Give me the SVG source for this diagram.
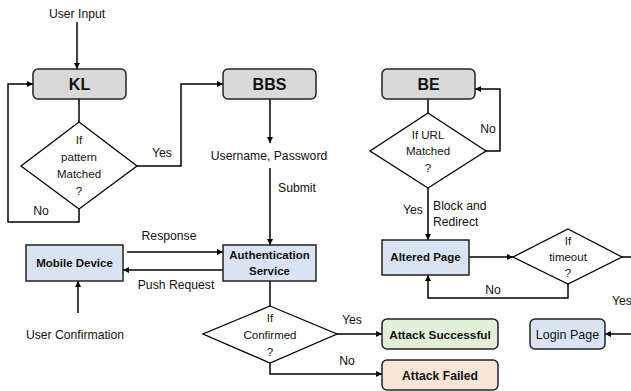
<svg xmlns="http://www.w3.org/2000/svg" width="631" height="391" viewBox="0 0 631 391">
  <defs>
    <marker id="arrow" viewBox="0 0 10 10" refX="10" refY="5" markerWidth="6" markerHeight="6" markerUnits="userSpaceOnUse" orient="auto">
      <path d="M0,0 L10,5 L0,10 z" fill="#000"/>
    </marker>
    <style>
      text { font-family: "Liberation Sans", Arial, sans-serif; fill: #111; }
      .lbl { font-size: 12.2px; text-anchor: middle; }
      .lbls { font-size: 12.2px; }
      .dtx { font-size: 11.5px; text-anchor: middle; }
      .title { font-size: 16px; font-weight: bold; text-anchor: middle; }
      .bold { font-size: 11.5px; font-weight: bold; text-anchor: middle; }
      .box { stroke: #222; stroke-width: 1.5; }
      .grey { fill: #d9d9d9; }
      .blue { fill: #dae3f3; }
      .green { fill: #e2f0d9; }
      .orange { fill: #fbe5d6; }
      .dia { fill: #fff; stroke: #000; stroke-width: 1.3; }
      .conn { fill: none; stroke: #000; stroke-width: 1.5; }
      .arr { marker-end: url(#arrow); }
    </style>
  </defs>

  <!-- connectors -->
  <g id="connectors">
    <path class="conn arr" d="M77,22 V69"/>
    <path class="conn" d="M79,99 V122"/>
    <path class="conn arr" d="M137,166 H181 V84 H223"/>
    <path class="conn arr" d="M79,209 V222 H8 V84 H33"/>
    <path class="conn arr" d="M270,99 V143"/>
    <path class="conn arr" d="M270,168 V245"/>
    <path class="conn arr" d="M127,252 H223"/>
    <path class="conn arr" d="M223,270 H123"/>
    <path class="conn arr" d="M78,313 V281"/>
    <path class="conn" d="M270,281 V306"/>
    <path class="conn arr" d="M337,334 H382"/>
    <path class="conn arr" d="M270,363 V374 H382"/>
    <path class="conn" d="M428,99 V113"/>
    <path class="conn arr" d="M486,151 H500 V89 H475"/>
    <path class="conn arr" d="M428,188 V240"/>
    <path class="conn arr" d="M469,257 H513"/>
    <path class="conn" d="M622,257 H631"/>
    <path class="conn arr" d="M568,284 V298 H428 V275"/>
    <path class="conn arr" d="M631,334 H605"/>
  </g>

  <!-- connector labels -->
  <g id="labels">
    <text class="lbl" x="77" y="18">User Input</text>
    <text class="lbl" x="162" y="157">Yes</text>
    <text class="lbl" x="41" y="215">No</text>
    <text class="lbl" x="269" y="160">Username, Password</text>
    <text class="lbls" x="278" y="192">Submit</text>
    <text class="lbl" x="169" y="240">Response</text>
    <text class="lbl" x="176" y="289">Push Request</text>
    <text class="lbl" x="75" y="339">User Confirmation</text>
    <text class="lbl" x="352" y="324">Yes</text>
    <text class="lbl" x="347" y="365">No</text>
    <text class="lbl" x="488" y="133">No</text>
    <text class="lbl" x="413" y="214">Yes</text>
    <text class="lbls" x="433" y="210">Block and</text>
    <text class="lbls" x="433" y="226">Redirect</text>
    <text class="lbl" x="493" y="294">No</text>
    <text class="lbls" x="612" y="305">Yes</text>
  </g>

  <g id="kl">
    <rect class="box grey" x="33" y="69" width="93" height="30" rx="5"/>
    <text class="title" x="79.5" y="90">KL</text>
  </g>
  <g id="pattern-check">
    <polygon class="dia" points="79,122 137,166 79,209 21,166"/>
    <text class="dtx" x="79" y="144">If</text>
    <text class="dtx" x="79" y="161">pattern</text>
    <text class="dtx" x="79" y="178">Matched</text>
    <text class="dtx" x="79" y="195">?</text>
  </g>
  <g id="bbs">
    <rect class="box grey" x="223" y="69" width="93" height="30" rx="5"/>
    <text class="title" x="269.5" y="90">BBS</text>
  </g>
  <g id="be">
    <rect class="box grey" x="382" y="69" width="93" height="30" rx="5"/>
    <text class="title" x="428.5" y="90">BE</text>
  </g>
  <g id="url-check">
    <polygon class="dia" points="428,113 486,151 428,188 370,151"/>
    <text class="dtx" x="428" y="139">If URL</text>
    <text class="dtx" x="428" y="155">Matched</text>
    <text class="dtx" x="428" y="172">?</text>
  </g>
  <g id="mobile-device">
    <rect class="box blue" x="26" y="245" width="97" height="36"/>
    <text class="bold" x="74.5" y="267">Mobile Device</text>
  </g>
  <g id="auth-service">
    <rect class="box blue" x="223" y="245" width="93" height="36"/>
    <text class="bold" x="269.5" y="259">Authentication</text>
    <text class="bold" x="269.5" y="275">Service</text>
  </g>
  <g id="confirm-check">
    <polygon class="dia" points="270,306 337,334 270,363 203,334"/>
    <text class="dtx" x="270" y="322">If</text>
    <text class="dtx" x="270" y="339">Confirmed</text>
    <text class="dtx" x="270" y="356">?</text>
  </g>
  <g id="altered-page">
    <rect class="box blue" x="382" y="240" width="87" height="35"/>
    <text class="bold" x="425.5" y="261">Altered Page</text>
  </g>
  <g id="timeout-check">
    <polygon class="dia" points="568,229 622,257 568,284 513,257"/>
    <text class="dtx" x="568" y="245">If</text>
    <text class="dtx" x="568" y="261">timeout</text>
    <text class="dtx" x="568" y="277">?</text>
  </g>
  <g id="attack-successful">
    <rect class="box green" x="382" y="319" width="116" height="30" rx="5"/>
    <text class="bold" x="440" y="338.5" style="font-size:11.8px">Attack Successful</text>
  </g>
  <g id="attack-failed">
    <rect class="box orange" x="382" y="360" width="116" height="30" rx="5"/>
    <text class="bold" x="440" y="379.5" style="font-size:12.2px">Attack Failed</text>
  </g>
  <g id="login-page">
    <rect class="box blue" x="530" y="319" width="75" height="30" rx="5"/>
    <text class="lbl" x="567.5" y="338.5" style="font-size:12.5px">Login Page</text>
  </g>
</svg>
